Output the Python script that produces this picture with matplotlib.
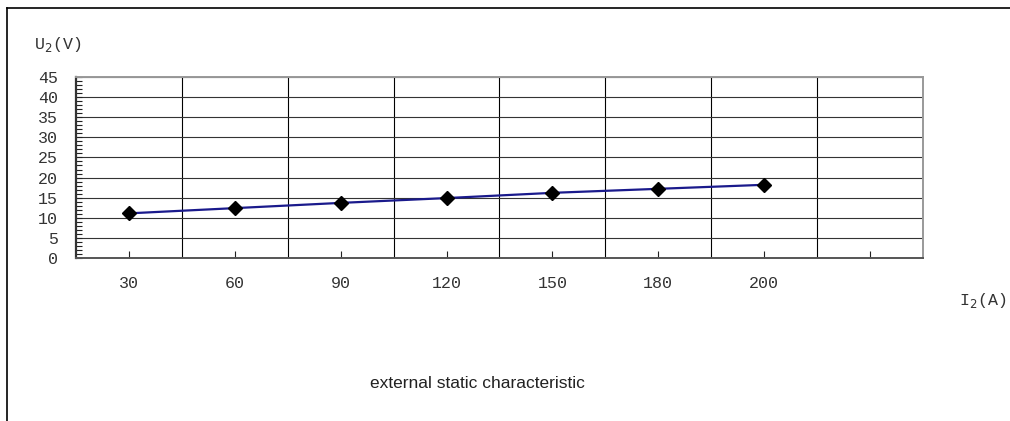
import matplotlib
matplotlib.use('Agg')
import matplotlib.pyplot as plt
from matplotlib.lines import Line2D
from matplotlib.ticker import MultipleLocator

# data
categories = ['30', '60', '90', '120', '150', '180', '200', '']
voltage = [11.1, 12.4, 13.7, 14.9, 16.2, 17.2, 18.2]

TICK_FONT = 'Liberation Mono'
LINE_COLOR = '#1a1a8c'
TEXT_COLOR = '#333333'

fig = plt.figure(figsize=(10.10, 4.21), dpi=100, facecolor='white')
ax = fig.add_axes([76 / 1010, 1 - 258 / 421, (923 - 76) / 1010, (258 - 77) / 421])

x = list(range(len(categories)))
ax.plot(x[:len(voltage)], voltage, color=LINE_COLOR, linewidth=1.6,
        marker='D', markersize=7.5, markerfacecolor='black',
        markeredgecolor='black', zorder=3)

ax.set_xlim(-0.5, len(categories) - 0.5)
ax.set_ylim(0, 45)

# category grid on boundaries, ticks on centres
ax.set_xticks(x)
ax.set_xticklabels(categories, fontfamily=TICK_FONT, fontsize=12)
ax.set_xticks([i + 0.5 for i in x[:-1]], minor=True)
ax.xaxis.grid(True, which='minor', color='black', linewidth=0.8)
ax.tick_params(axis='x', which='major', direction='in', length=5,
               width=0.8, pad=13, labelcolor=TEXT_COLOR, color='#222222')
ax.tick_params(axis='x', which='minor', length=0)

ax.yaxis.set_major_locator(MultipleLocator(5))
ax.yaxis.set_minor_locator(MultipleLocator(1))
ax.yaxis.grid(True, which='major', color='#333333', linewidth=0.8)
ax.tick_params(axis='y', which='both', direction='in', length=4,
               width=0.8, pad=13, labelcolor=TEXT_COLOR, color='#222222')
for lbl in ax.get_yticklabels():
    lbl.set_fontfamily(TICK_FONT)
    lbl.set_fontsize(12)

ax.spines['left'].set_color('#333333')
ax.spines['left'].set_linewidth(1.6)
ax.spines['bottom'].set_color('#555555')
ax.spines['bottom'].set_linewidth(1.4)
for s in ('top', 'right'):
    ax.spines[s].set_color('#999999')
    ax.spines[s].set_linewidth(1.4)

# axis captions
fig.text(34 / 1010, 1 - 45 / 421, r'U$_2$(V)', fontfamily=TICK_FONT,
         fontsize=12, va='center', ha='left', color=TEXT_COLOR)
fig.text(959 / 1010, 1 - 301 / 421, r'I$_2$(A)', fontfamily=TICK_FONT,
         fontsize=12, va='center', ha='left', color=TEXT_COLOR)
fig.text(477 / 1010, 1 - 383 / 421, 'external static characteristic',
         fontfamily='Liberation Sans', fontsize=12.5, ha='center', va='center',
         color='#222222')

# outer frame (top and left edges)
fig.add_artist(Line2D([7 / 1010, 1], [1 - 8 / 421] * 2, transform=fig.transFigure,
                      color='black', linewidth=1.2))
fig.add_artist(Line2D([7 / 1010] * 2, [0, 1 - 8 / 421], transform=fig.transFigure,
                      color='black', linewidth=1.2))

fig.savefig('out.png', dpi=100, facecolor='white')
